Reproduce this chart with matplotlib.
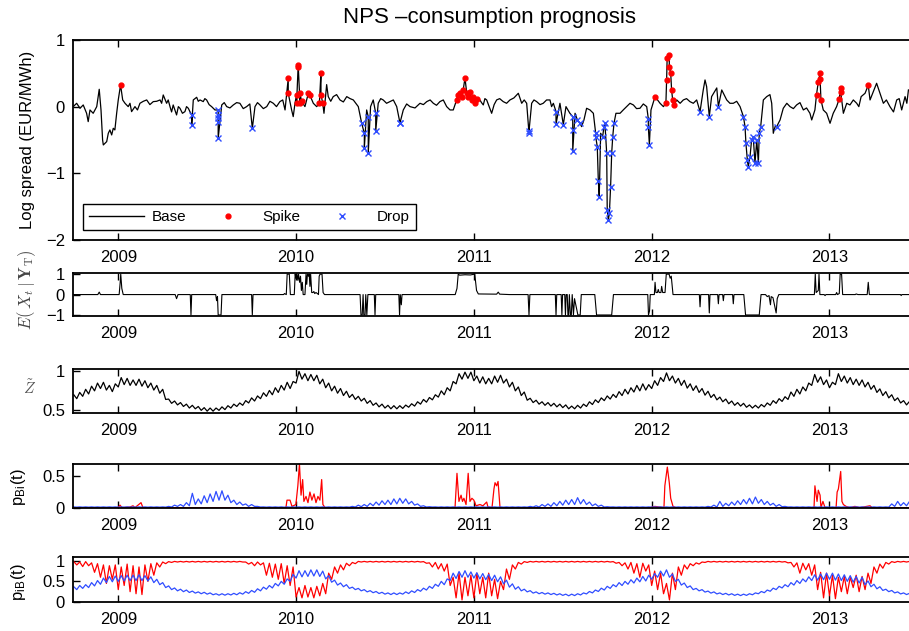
import numpy as np
import matplotlib
matplotlib.use("Agg")
import matplotlib.pyplot as plt
from matplotlib.lines import Line2D
from matplotlib.transforms import Bbox

plt.rcParams['font.family'] = ['Liberation Sans', 'DejaVu Sans']
plt.rcParams['mathtext.fontset'] = 'cm'

# ---- datos ----
years = [2009, 2010, 2011, 2012, 2013]
year_labels = ['2009', '2010', '2011', '2012', '2013']

# panel 1: log spread (decimal year, value)
base_pts = [
    (2008.747, 0.0), (2008.766, 0.05), (2008.785, -0.025), (2008.803, 0.025), (2008.822, -0.1),
    (2008.831, -0.225), (2008.841, -0.05), (2008.859, -0.1), (2008.879, 0.0), (2008.893, 0.26),
    (2008.903, -0.05), (2008.912, -0.5), (2008.916, -0.575), (2008.935, -0.525), (2008.944, -0.4),
    (2008.953, -0.35), (2008.963, -0.425), (2008.972, -0.325), (2008.981, -0.35), (2008.991, -0.1),
    (2009.000, 0.1), (2009.025, 0.1), (2009.038, 0.05), (2009.056, 0.0), (2009.075, -0.075),
    (2009.094, 0.0), (2009.122, 0.05), (2009.160, 0.1), (2009.197, 0.075), (2009.235, 0.1),
    (2009.253, 0.175), (2009.272, 0.05), (2009.291, 0.0), (2009.309, 0.025), (2009.328, -0.125),
    (2009.347, -0.025), (2009.375, -0.075), (2009.394, -0.025), (2009.422, 0.1), (2009.441, 0.14),
    (2009.460, 0.1), (2009.478, 0.075), (2009.497, 0.1), (2009.525, 0.0), (2009.544, -0.05),
    (2009.582, 0.025), (2009.610, 0.0), (2009.647, 0.025), (2009.684, 0.05), (2009.722, 0.0),
    (2009.769, 0.0), (2009.797, 0.025), (2009.835, 0.0), (2009.872, 0.05), (2009.909, 0.075),
    (2009.938, -0.05), (2009.975, -0.05), (2009.984, -0.15), (2009.994, 0.05), (2010.050, 0.0),
    (2010.097, 0.05), (2010.116, 0.0), (2010.157, -0.1), (2010.172, 0.33), (2010.181, 0.15),
    (2010.209, 0.15), (2010.247, 0.1), (2010.285, 0.15), (2010.322, 0.1), (2010.350, 0.0),
    (2010.397, -0.05), (2010.419, 0.0), (2010.434, 0.1), (2010.462, 0.05), (2010.490, 0.1),
    (2010.528, 0.075), (2010.566, 0.0), (2010.603, -0.05), (2010.641, 0.0), (2010.697, 0.05),
    (2010.735, 0.075), (2010.772, 0.05), (2010.809, 0.075), (2010.847, 0.0), (2010.866, -0.05),
    (2010.884, -0.05), (2011.034, 0.1), (2011.053, 0.025), (2011.072, 0.1), (2011.100, -0.1),
    (2011.128, 0.1), (2011.165, 0.075), (2011.203, 0.1), (2011.250, 0.2), (2011.269, 0.05),
    (2011.297, 0.05), (2011.325, 0.05), (2011.353, 0.075), (2011.390, 0.05), (2011.428, 0.1),
    (2011.447, 0.05), (2011.484, 0.05), (2011.518, 0.0), (2011.540, -0.1), (2011.569, -0.1),
    (2011.606, -0.3), (2011.619, -0.2), (2011.634, -0.025), (2011.653, -0.05), (2011.672, -0.1),
    (2011.713, -0.4), (2011.799, -0.1), (2011.822, -0.1), (2011.859, 0.0), (2011.897, 0.025),
    (2011.934, -0.025), (2011.972, 0.0), (2011.996, -0.05), (2012.047, 0.05), (2012.066, 0.0),
    (2012.141, 0.1), (2012.178, 0.1), (2012.215, 0.075), (2012.253, 0.1), (2012.290, 0.25),
    (2012.300, 0.4), (2012.309, 0.3), (2012.337, 0.15), (2012.366, 0.28), (2012.394, 0.25),
    (2012.422, 0.1), (2012.459, 0.05), (2012.497, 0.0), (2012.628, 0.1), (2012.647, 0.15),
    (2012.665, 0.18), (2012.675, 0.05), (2012.684, -0.4), (2012.694, -0.3), (2012.722, -0.2),
    (2012.740, -0.025), (2012.778, 0.0), (2012.815, 0.025), (2012.853, -0.05), (2012.890, -0.1),
    (2012.900, -0.2), (2012.918, -0.05), (2012.965, -0.05), (2012.984, -0.1), (2013.003, -0.25),
    (2013.021, -0.1), (2013.040, 0.0), (2013.078, -0.1), (2013.097, 0.05), (2013.115, 0.025),
    (2013.153, 0.05), (2013.178, 0.15), (2013.228, 0.1), (2013.265, 0.35), (2013.284, 0.2),
    (2013.303, 0.05), (2013.340, 0.0), (2013.378, 0.1), (2013.406, -0.05), (2013.425, 0.15),
    (2013.444, 0.25),
    # ruido corto entre los puntos anteriores
    (2009.066, 0.05), (2009.108, -0.05), (2009.141, 0.08), (2009.178, 0.03), (2009.216, 0.08),
    (2009.244, 0.05), (2009.281, 0.1), (2009.300, -0.08), (2009.338, 0.0), (2009.361, -0.1),
    (2009.384, 0.0), (2009.450, 0.08), (2009.487, 0.12), (2009.511, 0.03), (2009.596, 0.06),
    (2009.628, -0.02), (2009.666, 0.06), (2009.703, -0.03), (2009.740, 0.04), (2009.783, 0.06),
    (2009.816, -0.03), (2009.853, 0.08), (2009.890, 0.0), (2009.925, 0.1),
    (2010.195, 0.08), (2010.228, 0.18), (2010.266, 0.07), (2010.304, 0.12), (2010.336, 0.05),
    (2010.476, 0.12), (2010.509, 0.05), (2010.547, 0.1), (2010.622, 0.04), (2010.669, -0.02),
    (2010.716, 0.03), (2010.754, 0.1), (2010.790, 0.02), (2010.828, 0.1),
    (2011.043, 0.06), (2011.062, 0.12), (2011.086, 0.0), (2011.114, 0.03), (2011.145, 0.12),
    (2011.184, 0.05), (2011.225, 0.13), (2011.283, 0.1), (2011.338, 0.1), (2011.372, 0.03),
    (2011.409, 0.1), (2011.437, 0.0), (2011.840, -0.05), (2011.878, 0.05), (2011.915, -0.03),
    (2011.953, 0.04), (2012.160, 0.05), (2012.196, 0.12), (2012.234, 0.05), (2012.440, 0.05),
    (2012.478, 0.08), (2012.760, 0.05), (2012.797, -0.03), (2012.834, 0.06), (2012.871, -0.02),
    (2013.134, 0.1), (2013.165, 0.0), (2013.200, 0.2), (2013.246, 0.22), (2013.320, 0.1),
    (2013.360, -0.08), (2013.392, 0.12), (2013.435, 0.05),
]
spike_pts = [
    (2009.013, 0.325),
    (2009.956, 0.425), (2009.956, 0.20), (2010.003, 0.18), (2010.003, 0.05), (2010.012, 0.60),
    (2010.012, 0.63), (2010.022, 0.05), (2010.022, 0.20), (2010.031, 0.08), (2010.069, 0.20),
    (2010.078, 0.17), (2010.131, 0.05), (2010.140, 0.51), (2010.140, 0.18), (2010.150, 0.05),
    (2010.903, 0.10), (2010.912, 0.18), (2010.922, 0.20), (2010.931, 0.15), (2010.940, 0.25),
    (2010.950, 0.43), (2010.960, 0.20), (2010.969, 0.15), (2010.978, 0.22), (2010.988, 0.10),
    (2010.997, 0.15), (2011.006, 0.05), (2011.016, 0.12),
    (2012.019, 0.15), (2012.080, 0.05), (2012.084, 0.40), (2012.087, 0.73), (2012.099, 0.78),
    (2012.099, 0.60), (2012.107, 0.50), (2012.112, 0.25), (2012.118, 0.10), (2012.125, 0.02),
    (2012.927, 0.18), (2012.937, 0.37), (2012.947, 0.50), (2012.947, 0.42), (2012.952, 0.10),
    (2013.055, 0.12), (2013.063, 0.28), (2013.063, 0.22), (2013.218, 0.32),
]
drop_pts = [
    (2009.413, -0.13), (2009.413, -0.28),
    (2009.562, -0.05), (2009.562, -0.125), (2009.562, -0.175), (2009.562, -0.225), (2009.562, -0.475),
    (2009.754, -0.325),
    (2010.369, -0.25), (2010.384, -0.40), (2010.384, -0.62), (2010.406, -0.15), (2010.406, -0.70),
    (2010.448, -0.10), (2010.448, -0.37), (2010.584, -0.24), (2010.584, -0.25),
    (2011.310, -0.40), (2011.310, -0.37), (2011.462, -0.075), (2011.462, -0.26), (2011.503, -0.27),
    (2011.556, -0.15), (2011.556, -0.35), (2011.556, -0.67), (2011.582, -0.20), (2011.597, -0.25),
    (2011.685, -0.40), (2011.685, -0.45), (2011.694, -0.60), (2011.700, -1.12), (2011.705, -1.36),
    (2011.724, -0.45), (2011.732, -0.30), (2011.737, -0.25), (2011.747, -0.70), (2011.750, -1.55),
    (2011.756, -1.70), (2011.762, -1.60), (2011.769, -1.20), (2011.775, -0.70), (2011.781, -0.45),
    (2011.788, -0.25),
    (2011.981, -0.18), (2011.981, -0.30), (2011.987, -0.57),
    (2012.272, -0.075), (2012.324, -0.15), (2012.375, 0.0),
    (2012.516, -0.15), (2012.525, -0.30), (2012.530, -0.55), (2012.538, -0.80), (2012.543, -0.90),
    (2012.553, -0.75), (2012.562, -0.50), (2012.571, -0.45), (2012.581, -0.85), (2012.591, -0.50),
    (2012.600, -0.85), (2012.605, -0.40), (2012.613, -0.30),
    (2012.703, -0.30),
]

# panel 2: E(X_t | Y_T)
e_pts = [
    (2008.745, 0), (2008.885, 0), (2008.893, 0.12), (2008.900, 0),
    (2009.005, 0), (2009.011, 0.6), (2009.014, 1.0), (2009.020, 0.3), (2009.028, 0),
    (2009.320, 0), (2009.328, -0.2), (2009.336, 0),
    (2009.405, 0), (2009.409, -1), (2009.413, 0),
    (2009.548, 0), (2009.553, -0.3), (2009.558, -0.1), (2009.562, -1), (2009.578, -1), (2009.583, 0),
    (2009.750, 0), (2009.754, -1), (2009.758, 0),
    (2009.930, 0), (2009.935, 0.05), (2009.945, 0), (2009.950, 1), (2009.962, 1), (2009.968, 0),
    (2009.990, 0), (2009.995, 1), (2010.000, 0.8), (2010.005, 1), (2010.010, 0.7), (2010.014, 1),
    (2010.020, 0.6), (2010.025, 0.9), (2010.030, 0.2), (2010.035, 0.6), (2010.040, 0.0),
    (2010.050, 0), (2010.056, 1), (2010.060, 0.5), (2010.064, 1), (2010.070, 0.9), (2010.074, 1),
    (2010.078, 0.4), (2010.082, 1), (2010.088, 0.1), (2010.095, 0.1), (2010.100, 0.15),
    (2010.105, 0.05), (2010.112, 0.1), (2010.120, 0.05), (2010.126, 0), (2010.130, 0.9),
    (2010.135, 1), (2010.146, 1), (2010.152, 0.1), (2010.160, 0),
    (2010.360, 0), (2010.365, -1), (2010.372, -1), (2010.377, 0), (2010.381, -1), (2010.388, -1),
    (2010.392, 0), (2010.398, -1), (2010.404, 0), (2010.440, 0), (2010.444, -1), (2010.448, 0),
    (2010.578, 0), (2010.582, -1), (2010.586, 0), (2010.592, -0.5), (2010.596, 0),
    (2010.895, 0), (2010.905, 0.3), (2010.912, 1), (2010.920, 0.95), (2010.950, 0.97),
    (2010.980, 0.96), (2011.005, 1), (2011.015, 0.2), (2011.025, 0.03), (2011.100, 0.02),
    (2011.128, 0.02), (2011.137, 0.12), (2011.145, 0.02), (2011.200, 0),
    (2011.305, 0), (2011.310, -1), (2011.315, 0),
    (2011.458, 0), (2011.462, -1), (2011.466, 0), (2011.491, 0), (2011.495, -1), (2011.499, 0),
    (2011.511, 0), (2011.515, -1), (2011.519, 0), (2011.525, 0), (2011.529, -1), (2011.533, -1),
    (2011.537, 0), (2011.543, -1), (2011.548, -1), (2011.553, 0), (2011.560, -1), (2011.566, -0.2),
    (2011.580, -0.8), (2011.585, -1), (2011.598, -1), (2011.604, 0),
    (2011.680, 0), (2011.690, -1), (2011.775, -1), (2011.785, 0),
    (2011.978, 0), (2011.982, -1), (2011.988, -0.8), (2011.992, 0),
    (2012.015, 0), (2012.019, 0.6), (2012.024, 0.1), (2012.032, 0.1), (2012.037, 0.25),
    (2012.042, 0.1), (2012.052, 0.1), (2012.056, 0.4), (2012.062, 0.1), (2012.075, 0.1),
    (2012.082, 1), (2012.098, 1), (2012.104, 0.8), (2012.110, 0.9), (2012.120, 0),
    (2012.268, 0), (2012.272, -0.6), (2012.276, 0), (2012.320, 0), (2012.324, -0.9), (2012.328, 0),
    (2012.371, 0), (2012.375, -0.45), (2012.379, 0), (2012.399, 0), (2012.403, -0.3), (2012.407, 0),
    (2012.455, 0), (2012.459, -0.45), (2012.463, 0),
    (2012.518, 0), (2012.528, -1), (2012.605, -1), (2012.615, 0),
    (2012.640, 0), (2012.650, -0.1), (2012.660, -0.05), (2012.668, -0.5), (2012.672, -0.1),
    (2012.682, -0.15), (2012.700, -0.9), (2012.706, -0.2), (2012.715, 0),
    (2012.915, 0), (2012.920, 1), (2012.925, 0.1), (2012.937, 0.2), (2012.941, 1), (2012.946, 0),
    (2012.970, 0), (2012.975, -0.05), (2012.980, 0),
    (2013.035, 0), (2013.040, 0.1), (2013.045, 0), (2013.055, 0.05), (2013.060, 1), (2013.068, 1),
    (2013.074, 0), (2013.145, 0), (2013.150, 0.03), (2013.160, 0),
    (2013.212, 0), (2013.218, 0.6), (2013.224, 0),
    (2013.400, 0), (2013.403, -0.05), (2013.407, 0), (2013.447, 0),
]

# paneles 3-5: picos (hi) y valles (lo) semanales sobre una grilla de ~12 dias
grid_start = 2008.75
grid_step = 1 / 30
z_hi = [
    0.70, 0.73, 0.77, 0.81, 0.85, 0.86, 0.82, 0.84, 0.92, 0.91,
    0.89, 0.90, 0.88, 0.85, 0.82, 0.77, 0.645, 0.62, 0.60, 0.58,
    0.565, 0.55, 0.535, 0.53, 0.53, 0.545, 0.56, 0.58, 0.595, 0.625,
    0.66, 0.685, 0.725, 0.755, 0.79, 0.82, 0.86, 0.87, 1.00, 0.97,
    0.96, 0.95, 0.90, 0.85, 0.81, 0.78, 0.745, 0.705, 0.68, 0.655,
    0.625, 0.595, 0.58, 0.565, 0.56, 0.56, 0.568, 0.585, 0.61, 0.64,
    0.665, 0.70, 0.75, 0.79, 0.87, 0.97, 0.99, 0.99, 0.94, 0.93,
    0.91, 0.94, 0.95, 0.90, 0.86, 0.80, 0.735, 0.655, 0.63, 0.61,
    0.60, 0.59, 0.58, 0.57, 0.555, 0.565, 0.58, 0.61, 0.635, 0.66,
    0.685, 0.705, 0.74, 0.77, 0.79, 0.82, 0.84, 0.83, 0.88, 0.92,
    0.98, 0.94, 0.91, 0.885, 0.84, 0.815, 0.78, 0.745, 0.705, 0.67,
    0.645, 0.62, 0.60, 0.59, 0.57, 0.565, 0.575, 0.595, 0.625, 0.65,
    0.675, 0.735, 0.77, 0.80, 0.85, 0.96, 0.93, 0.89, 0.86, 0.97,
    0.94, 0.92, 0.90, 0.89, 0.86, 0.82, 0.775, 0.74, 0.70, 0.66,
    0.625, 0.615,
]
z_lo = [
    0.65, 0.68, 0.71, 0.75, 0.78, 0.76, 0.74, 0.80, 0.83, 0.82,
    0.82, 0.81, 0.79, 0.76, 0.72, 0.64, 0.59, 0.57, 0.55, 0.53,
    0.52, 0.50, 0.49, 0.49, 0.50, 0.51, 0.53, 0.55, 0.565, 0.595,
    0.62, 0.65, 0.68, 0.70, 0.73, 0.76, 0.78, 0.85, 0.90, 0.88,
    0.88, 0.84, 0.79, 0.75, 0.72, 0.69, 0.665, 0.64, 0.62, 0.59,
    0.565, 0.545, 0.53, 0.52, 0.52, 0.525, 0.54, 0.555, 0.58, 0.605,
    0.635, 0.67, 0.70, 0.75, 0.84, 0.90, 0.91, 0.88, 0.85, 0.84,
    0.84, 0.86, 0.85, 0.80, 0.75, 0.69, 0.63, 0.60, 0.58, 0.565,
    0.555, 0.545, 0.535, 0.52, 0.52, 0.53, 0.55, 0.575, 0.60, 0.625,
    0.645, 0.665, 0.69, 0.71, 0.735, 0.75, 0.76, 0.78, 0.82, 0.87,
    0.88, 0.85, 0.82, 0.785, 0.755, 0.73, 0.695, 0.665, 0.635, 0.61,
    0.585, 0.565, 0.555, 0.54, 0.53, 0.53, 0.545, 0.565, 0.59, 0.615,
    0.64, 0.68, 0.71, 0.75, 0.82, 0.86, 0.83, 0.79, 0.83, 0.87,
    0.85, 0.83, 0.82, 0.80, 0.77, 0.73, 0.69, 0.66, 0.625, 0.595,
    0.57, 0.56,
]
p_bi_blue_hi = [
    0.012, 0.012, 0.012, 0.012, 0.012, 0.012, 0.012, 0.012, 0.012, 0.012,
    0.012, 0.012, 0.012, 0.012, 0.012, 0.012, 0.02, 0.04, 0.05, 0.08,
    0.23, 0.14, 0.19, 0.22, 0.26, 0.27, 0.20, 0.12, 0.09, 0.06,
    0.05, 0.02, 0.012, 0.012, 0.012, 0.012, 0.012, 0.012, 0.012, 0.012,
    0.012, 0.012, 0.012, 0.012, 0.012, 0.012, 0.012, 0.02, 0.04, 0.05,
    0.07, 0.09, 0.11, 0.12, 0.14, 0.15, 0.14, 0.10, 0.06, 0.03,
    0.015, 0.012, 0.012, 0.012, 0.012, 0.012, 0.012, 0.012, 0.012, 0.012,
    0.012, 0.012, 0.012, 0.012, 0.012, 0.012, 0.012, 0.02, 0.03, 0.05,
    0.06, 0.08, 0.10, 0.12, 0.13, 0.16, 0.13, 0.09, 0.06, 0.04,
    0.015, 0.012, 0.012, 0.012, 0.012, 0.012, 0.012, 0.012, 0.012, 0.012,
    0.012, 0.012, 0.012, 0.012, 0.012, 0.012, 0.012, 0.02, 0.04, 0.10,
    0.07, 0.09, 0.11, 0.13, 0.15, 0.17, 0.13, 0.10, 0.07, 0.05,
    0.02, 0.012, 0.012, 0.012, 0.012, 0.012, 0.012, 0.012, 0.012, 0.012,
    0.012, 0.012, 0.012, 0.012, 0.012, 0.012, 0.012, 0.012, 0.06, 0.10,
    0.08, 0.10,
]
p_bi_blue_lo = [
    0.008, 0.008, 0.008, 0.008, 0.008, 0.008, 0.008, 0.008, 0.008, 0.008,
    0.008, 0.008, 0.008, 0.008, 0.008, 0.008, 0.01, 0.02, 0.02, 0.03,
    0.05, 0.06, 0.08, 0.10, 0.12, 0.12, 0.08, 0.05, 0.04, 0.02,
    0.02, 0.01, 0.008, 0.008, 0.008, 0.008, 0.008, 0.008, 0.008, 0.008,
    0.008, 0.008, 0.008, 0.008, 0.008, 0.008, 0.008, 0.01, 0.015, 0.02,
    0.03, 0.04, 0.05, 0.05, 0.06, 0.07, 0.06, 0.04, 0.02, 0.01,
    0.01, 0.008, 0.008, 0.008, 0.008, 0.008, 0.008, 0.008, 0.008, 0.008,
    0.008, 0.008, 0.008, 0.008, 0.008, 0.008, 0.008, 0.01, 0.01, 0.02,
    0.02, 0.03, 0.04, 0.05, 0.05, 0.06, 0.05, 0.03, 0.02, 0.01,
    0.01, 0.008, 0.008, 0.008, 0.008, 0.008, 0.008, 0.008, 0.008, 0.008,
    0.008, 0.008, 0.008, 0.008, 0.008, 0.008, 0.008, 0.01, 0.01, 0.02,
    0.03, 0.04, 0.05, 0.06, 0.06, 0.07, 0.05, 0.04, 0.02, 0.015,
    0.01, 0.008, 0.008, 0.008, 0.008, 0.008, 0.008, 0.008, 0.008, 0.008,
    0.008, 0.008, 0.008, 0.008, 0.008, 0.008, 0.008, 0.008, 0.02, 0.03,
    0.03, 0.03,
]
p_bi_red = [
    (2008.745, 0.0), (2008.998, 0.0), (2009.010, 0.04), (2009.021, 0.0), (2009.066, 0.01),
    (2009.083, 0.03), (2009.094, 0.0), (2009.111, 0.04), (2009.128, 0.08), (2009.139, 0.0),
    (2009.943, 0.0), (2009.949, 0.12), (2009.966, 0.12), (2009.977, 0.02), (2009.999, 0.05),
    (2010.010, 0.35), (2010.019, 0.70), (2010.028, 0.2), (2010.037, 0.45), (2010.044, 0.1),
    (2010.056, 0.18), (2010.067, 0.08), (2010.078, 0.25), (2010.089, 0.12), (2010.101, 0.22),
    (2010.112, 0.08), (2010.123, 0.18), (2010.134, 0.12), (2010.144, 0.45), (2010.151, 0.05),
    (2010.163, 0.0), (2010.894, 0.0), (2010.905, 0.55), (2010.916, 0.1), (2010.928, 0.2),
    (2010.936, 0.1), (2010.944, 0.15), (2010.956, 0.05), (2010.968, 0.55), (2010.978, 0.1),
    (2010.989, 0.15), (2011.000, 0.12), (2011.012, 0.03), (2011.034, 0.05), (2011.051, 0.03),
    (2011.072, 0.09), (2011.079, 0.01), (2011.102, 0.0), (2011.113, 0.3), (2011.119, 0.4),
    (2011.128, 0.35), (2011.136, 0.42), (2011.147, 0.0), (2011.990, 0.0), (2012.018, 0.02),
    (2012.069, 0.0), (2012.074, 0.35), (2012.088, 0.65), (2012.099, 0.4), (2012.107, 0.15),
    (2012.120, 0.02), (2012.137, 0.0), (2012.913, 0.0), (2012.918, 0.35), (2012.930, 0.1),
    (2012.937, 0.28), (2012.947, 0.2), (2012.952, 0.0), (2012.963, 0.1), (2012.975, 0.0),
    (2013.037, 0.0), (2013.043, 0.25), (2013.050, 0.3), (2013.063, 0.58), (2013.070, 0.1),
    (2013.078, 0.05), (2013.093, 0.02), (2013.115, 0.0), (2013.143, 0.02), (2013.171, 0.0),
    (2013.228, 0.03), (2013.239, 0.0), (2013.447, 0.0),
]
p_ib_red_hi = [
    0.98, 0.97, 0.98, 0.95, 0.93, 0.90, 0.88, 0.90, 0.85, 0.92,
    0.88, 0.85, 0.90, 0.93, 0.95, 0.97, 0.98, 0.985, 0.985, 0.985,
    0.985, 0.985, 0.985, 0.985, 0.985, 0.985, 0.985, 0.985, 0.985, 0.97,
    0.96, 0.97, 0.95, 0.94, 0.92, 0.93, 0.88, 0.85, 0.35, 0.40,
    0.35, 0.38, 0.45, 0.70, 0.85, 0.90, 0.94, 0.96, 0.985, 0.985,
    0.985, 0.985, 0.985, 0.985, 0.985, 0.985, 0.985, 0.985, 0.985, 0.98,
    0.95, 0.96, 0.93, 0.92, 0.60, 0.70, 0.60, 0.65, 0.70, 0.60,
    0.70, 0.55, 0.50, 0.80, 0.90, 0.96, 0.98, 0.985, 0.985, 0.985,
    0.985, 0.985, 0.985, 0.985, 0.985, 0.985, 0.985, 0.985, 0.985, 0.985,
    0.985, 0.98, 0.96, 0.95, 0.96, 0.93, 0.94, 0.90, 0.75, 0.70,
    0.45, 0.70, 0.85, 0.90, 0.93, 0.95, 0.97, 0.985, 0.985, 0.985,
    0.985, 0.985, 0.985, 0.985, 0.985, 0.985, 0.985, 0.985, 0.985, 0.985,
    0.98, 0.96, 0.95, 0.94, 0.93, 0.90, 0.72, 0.70, 0.65, 0.60,
    0.62, 0.60, 0.65, 0.62, 0.70, 0.85, 0.92, 0.96, 0.98, 0.985,
    0.985, 0.985,
]
p_ib_red_lo = [
    0.90, 0.86, 0.88, 0.72, 0.60, 0.45, 0.55, 0.30, 0.40, 0.25,
    0.20, 0.18, 0.50, 0.65, 0.85, 0.93, 0.96, 0.97, 0.97, 0.97,
    0.97, 0.97, 0.97, 0.97, 0.97, 0.97, 0.97, 0.97, 0.97, 0.92,
    0.88, 0.90, 0.65, 0.60, 0.55, 0.45, 0.40, 0.12, 0.10, 0.12,
    0.10, 0.15, 0.20, 0.55, 0.70, 0.78, 0.88, 0.93, 0.97, 0.97,
    0.97, 0.97, 0.97, 0.97, 0.97, 0.97, 0.97, 0.97, 0.97, 0.94,
    0.85, 0.80, 0.75, 0.40, 0.10, 0.05, 0.15, 0.10, 0.20, 0.10,
    0.15, 0.08, 0.30, 0.55, 0.80, 0.92, 0.96, 0.97, 0.97, 0.97,
    0.97, 0.97, 0.97, 0.97, 0.97, 0.97, 0.97, 0.97, 0.97, 0.97,
    0.97, 0.94, 0.88, 0.80, 0.70, 0.60, 0.75, 0.40, 0.30, 0.20,
    0.05, 0.30, 0.65, 0.80, 0.88, 0.92, 0.96, 0.97, 0.97, 0.97,
    0.97, 0.97, 0.97, 0.97, 0.97, 0.97, 0.97, 0.97, 0.97, 0.97,
    0.95, 0.85, 0.70, 0.78, 0.65, 0.30, 0.10, 0.15, 0.08, 0.25,
    0.20, 0.35, 0.25, 0.30, 0.45, 0.70, 0.82, 0.92, 0.96, 0.97,
    0.97, 0.97,
]
p_ib_blue_hi = [
    0.37, 0.40, 0.42, 0.47, 0.52, 0.58, 0.62, 0.63, 0.64, 0.65,
    0.65, 0.66, 0.64, 0.61, 0.55, 0.47, 0.39, 0.34, 0.31, 0.29,
    0.265, 0.245, 0.235, 0.22, 0.20, 0.20, 0.20, 0.21, 0.225, 0.25,
    0.28, 0.32, 0.36, 0.40, 0.45, 0.50, 0.56, 0.67, 0.76, 0.76,
    0.78, 0.78, 0.75, 0.64, 0.53, 0.46, 0.42, 0.36, 0.33, 0.30,
    0.275, 0.255, 0.235, 0.22, 0.22, 0.22, 0.245, 0.27, 0.30, 0.335,
    0.38, 0.43, 0.50, 0.56, 0.70, 0.74, 0.76, 0.73, 0.71, 0.69,
    0.67, 0.65, 0.61, 0.53, 0.44, 0.37, 0.31, 0.275, 0.245, 0.23,
    0.22, 0.21, 0.20, 0.19, 0.19, 0.20, 0.22, 0.255, 0.29, 0.335,
    0.38, 0.42, 0.47, 0.50, 0.54, 0.58, 0.62, 0.65, 0.69, 0.75,
    0.78, 0.68, 0.55, 0.46, 0.39, 0.33, 0.30, 0.265, 0.245, 0.22,
    0.21, 0.20, 0.19, 0.19, 0.20, 0.22, 0.255, 0.29, 0.335, 0.38,
    0.42, 0.47, 0.52, 0.56, 0.61, 0.66, 0.68, 0.70, 0.70, 0.68,
    0.66, 0.64, 0.62, 0.60, 0.51, 0.43, 0.37, 0.31, 0.28, 0.245,
    0.22, 0.21,
]
p_ib_blue_lo = [
    0.30, 0.33, 0.35, 0.39, 0.43, 0.47, 0.49, 0.50, 0.51, 0.52,
    0.52, 0.52, 0.51, 0.47, 0.42, 0.35, 0.30, 0.27, 0.25, 0.23,
    0.215, 0.20, 0.19, 0.175, 0.165, 0.165, 0.17, 0.175, 0.19, 0.21,
    0.235, 0.27, 0.31, 0.34, 0.39, 0.43, 0.50, 0.58, 0.61, 0.62,
    0.63, 0.62, 0.56, 0.48, 0.41, 0.37, 0.33, 0.30, 0.27, 0.245,
    0.225, 0.205, 0.19, 0.18, 0.18, 0.19, 0.205, 0.23, 0.26, 0.29,
    0.33, 0.38, 0.42, 0.52, 0.57, 0.60, 0.60, 0.58, 0.56, 0.54,
    0.52, 0.49, 0.44, 0.36, 0.31, 0.27, 0.245, 0.215, 0.20, 0.19,
    0.18, 0.17, 0.16, 0.15, 0.155, 0.17, 0.195, 0.22, 0.255, 0.29,
    0.33, 0.37, 0.40, 0.43, 0.46, 0.49, 0.51, 0.55, 0.60, 0.63,
    0.60, 0.50, 0.41, 0.35, 0.30, 0.27, 0.24, 0.215, 0.195, 0.18,
    0.17, 0.16, 0.155, 0.16, 0.175, 0.20, 0.225, 0.26, 0.30, 0.34,
    0.37, 0.41, 0.45, 0.49, 0.52, 0.53, 0.54, 0.55, 0.53, 0.52,
    0.50, 0.48, 0.46, 0.42, 0.37, 0.32, 0.28, 0.25, 0.22, 0.195,
    0.18, 0.17,
]

RED = '#ff0000'
BLUE = '#2f4dff'


def zigzag(hi, lo):
    # picos en la grilla, valles a medio paso
    n = min(len(hi), len(lo))
    th = grid_start + np.arange(n) * grid_step
    t = np.empty(2 * n)
    v = np.empty(2 * n)
    t[0::2] = th
    t[1::2] = th + grid_step / 2
    v[0::2] = hi[:n]
    v[1::2] = lo[:n]
    return t, v


# ---- figura ----
fig = plt.figure(figsize=(9.09, 6.31), dpi=100)
L, W = 0.0806, 0.9315
ax1 = fig.add_axes([L, 0.6197, W, 0.3170])
ax2 = fig.add_axes([L, 0.4992, W, 0.0686])
ax3 = fig.add_axes([L, 0.3447, W, 0.0705])
ax4 = fig.add_axes([L, 0.1945, W, 0.0702])
ax5 = fig.add_axes([L, 0.0460, W, 0.0705])

# panel 1
allp = sorted(base_pts + spike_pts + drop_pts, key=lambda p: p[0])
t_all, v_all = np.array(allp).T
ax1.plot(t_all, v_all, color='black', lw=0.9)
st, sv = np.array(spike_pts).T
dt, dv = np.array(drop_pts).T
ax1.plot(st, sv, ls='none', marker='o', ms=3.5, color=RED, mec=RED)
ax1.plot(dt, dv, ls='none', marker='x', ms=5, mew=1.0, color=BLUE)
ax1.set_ylim(-2, 1)
ax1.set_yticks([-2, -1, 0, 1])
handles = [Line2D([], [], color='black', lw=1),
           Line2D([], [], ls='none', marker='o', ms=3.5, color=RED),
           Line2D([], [], ls='none', marker='x', ms=5, mew=1.0, color=BLUE)]
leg = ax1.legend(handles, ['Base', 'Spike', 'Drop'], ncol=3, loc='lower left',
                 bbox_to_anchor=(0.0115, 0.05), borderaxespad=0, fontsize=11,
                 handlelength=3.6, handletextpad=0.5, columnspacing=0.9,
                 fancybox=False, framealpha=1, edgecolor='black', borderpad=0.4)
leg.get_frame().set_linewidth(1.0)

# panel 2
et, ev = np.array(e_pts).T
ax2.plot(et, ev, color='black', lw=0.8)
ax2.set_ylim(-1.05, 1.07)
ax2.set_yticks([-1, 0, 1])

# panel 3
zt, zv = zigzag(z_hi, z_lo)
ax3.plot(zt, zv, color='black', lw=0.9)
ax3.set_ylim(0.46, 1.03)
ax3.set_yticks([0.5, 1])
ax3.set_yticklabels(['0.5', '1'])

# panel 4
rt, rv = np.array(p_bi_red).T
bt, bv = zigzag(p_bi_blue_hi, p_bi_blue_lo)
ax4.plot(rt, rv, color=RED, lw=0.9)
ax4.plot(bt, bv, color=BLUE, lw=0.9)
ax4.set_ylim(-0.01, 0.7)
ax4.set_yticks([0, 0.5])
ax4.set_yticklabels(['0', '0.5'])

# panel 5
rt5, rv5 = zigzag(p_ib_red_hi, p_ib_red_lo)
bt5, bv5 = zigzag(p_ib_blue_hi, p_ib_blue_lo)
ax5.plot(rt5, rv5, color=RED, lw=0.9)
ax5.plot(bt5, bv5, color=BLUE, lw=0.9)
ax5.set_ylim(0, 1.08)
ax5.set_yticks([0, 0.5, 1])
ax5.set_yticklabels(['0', '0.5', '1'])

for ax in [ax1, ax2, ax3, ax4, ax5]:
    ax.set_xlim(2008.747, 2013.509)
    ax.set_xticks(years)
    ax.set_xticklabels(year_labels)
    ax.tick_params(axis='x', direction='in', top=True, length=5, width=1, pad=7, labelsize=12)
    ax.tick_params(axis='y', direction='in', length=5, width=1, pad=6, labelsize=12)
    for s in ax.spines.values():
        s.set_linewidth(1.3)

# textos
fig.text(0.539, 0.972, 'NPS \u2013consumption prognosis', ha='center', va='center', fontsize=16)
fig.text(28 / 909, 1 - 140 / 631, 'Log spread (EUR/MWh)', rotation=90,
         ha='center', va='center', fontsize=12)
lab2 = fig.text(27 / 909, 1 - 290 / 631, r'$E(\,X_t\mid\mathbf{Y}_\mathrm{T})$', rotation=90,
                ha='center', va='center', fontsize=12, color='#444444')
lab2.set_clip_box(Bbox.from_extents(0, 0, 909, 631 - 250))
lab2.set_clip_on(True)
fig.text(30 / 909, 1 - 388 / 631, r'$\tilde{Z}$', ha='center', va='center',
         fontsize=11, color='#555555')
fig.text(18 / 909, 1 - 487 / 631, r'p$_{\mathregular{Bi}}$(t)', rotation=90,
         ha='center', va='center', fontsize=12)
fig.text(18 / 909, 1 - 582 / 631, r'p$_{\mathregular{iB}}$(t)', rotation=90,
         ha='center', va='center', fontsize=12)

fig.savefig('out.png', dpi=100)
